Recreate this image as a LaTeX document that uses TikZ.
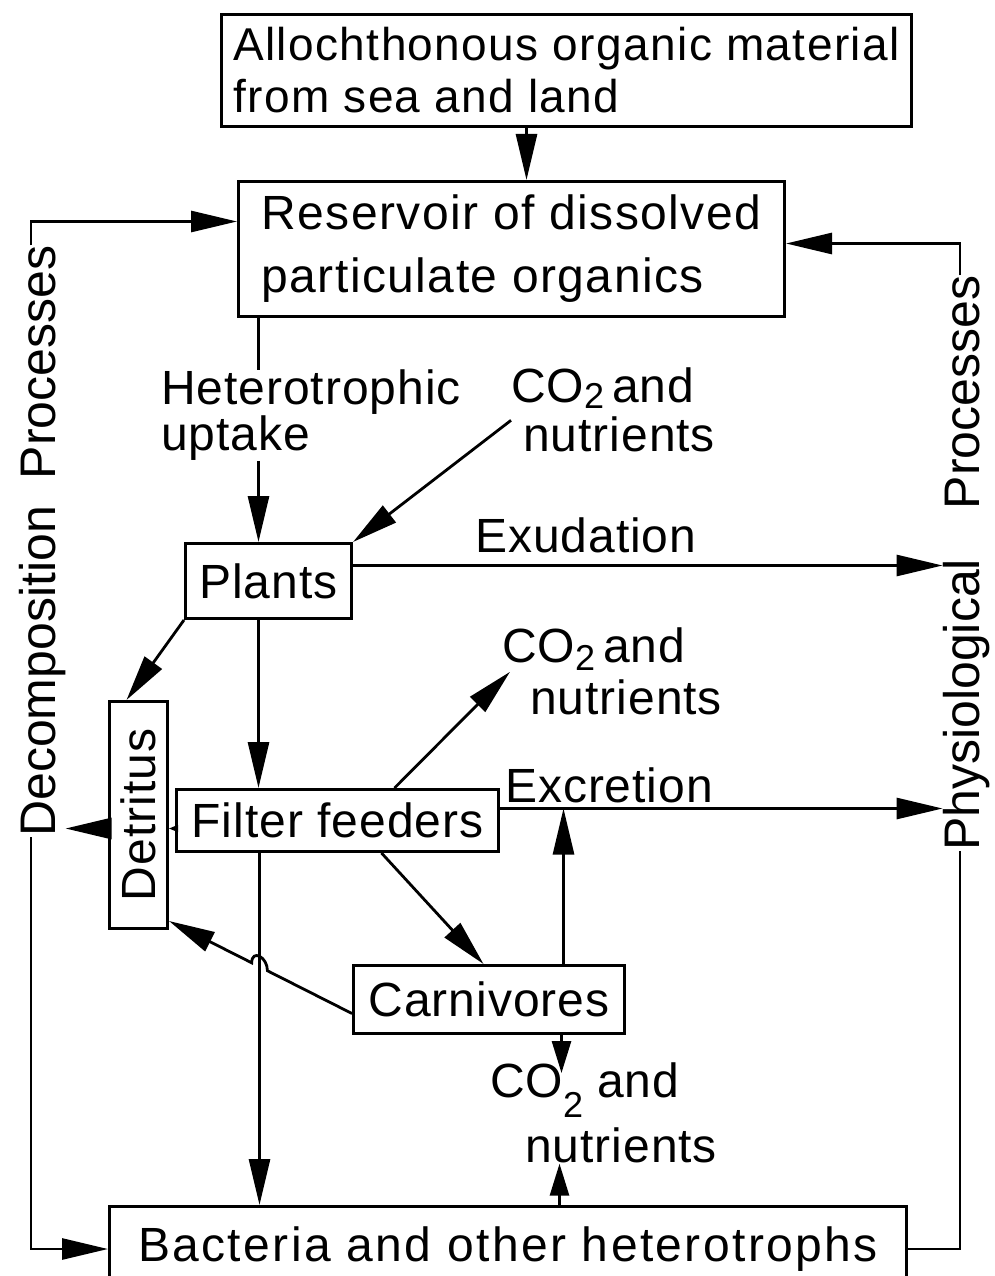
\documentclass[tikz,border=0pt]{standalone}
\usepackage{fontspec}
\setmainfont{Liberation Sans}
\usetikzlibrary{arrows.meta,calc}
\newcommand{\lowtwo}[1]{\smash{\raisebox{-#1pt}{\fontsize{36}{36}\selectfont 2}}}
\begin{document}
\begin{tikzpicture}[x=1pt,y=-1pt,
  box/.style={draw, line width=3pt, inner sep=0pt, anchor=north west, align=center},
  lbl/.style={inner sep=0pt, anchor=north west, align=left},
  rot/.style={rotate=90, inner sep=0pt, anchor=base west, font=\fontsize{50}{56}\selectfont},
  arr/.style={line width=2.8pt, -{Triangle[length=46pt,width=21pt]}},
  sarr/.style={line width=2.8pt, -{Triangle[length=32pt,width=19pt]}},
  ln/.style={line width=2.8pt},
  tx/.style={font=\fontsize{48}{#1}\selectfont\addfontfeature{LetterSpace=2}},
  tx/.default=56]
\fill[white] (0,0) rectangle (995,1276);
\useasboundingbox (0,0) rectangle (995,1276);

% boxes
\node[box, minimum width=690pt, minimum height=112pt,
  font=\fontsize{46}{52}\selectfont\addfontfeature{LetterSpace=3}, align=left]
  (top) at (220,13) {Allochthonous organic material\\from sea and land};
\node[box, minimum width=546pt, minimum height=135pt,
  font=\fontsize{48}{63}\selectfont\addfontfeature{LetterSpace=3}, align=left]
  (res) at (237,180) {Reservoir of dissolved\\particulate organics};
\node[box, tx, minimum width=166pt, minimum height=75pt] (plants) at (184,542) {Plants};
\node[box, tx, minimum width=58pt, minimum height=227pt] (detritus) at (108,700) {\rotatebox{90}{Detritus}};
\node[box, tx, minimum width=322pt, minimum height=62pt] (filter) at (175,788) {Filter feeders};
\node[box, tx, minimum width=271pt, minimum height=68pt] (carn) at (352,964) {Carnivores};
\node[box, minimum width=797pt, minimum height=85pt,
  font=\fontsize{48}{56}\selectfont\addfontfeature{LetterSpace=5}]
  (bact) at (108,1205) {Bacteria and other heterotrophs};

% side texts
\node[rot] (decomp) at (55,837) {Decomposition\hspace{27pt}Processes};
\node[rot] (physio) at (979,851) {Physiological\hspace{50pt}Processes};

% labels
\node[lbl, tx=49] (co2a) at (511,368) {CO\lowtwo{6}\,and\\\hspace*{12pt}nutrients};
\node[lbl, tx=52] (co2b) at (502,628) {CO\lowtwo{8}\,and\\\hspace*{28pt}nutrients};
\node[lbl, tx=65] (co2c) at (490,1063) {CO\lowtwo{20}\hspace{14pt}and\\\hspace*{35pt}nutrients};
\node[lbl, tx=42] (het) at (161,370) {Heterotrophic\\uptake};
\node[inner sep=0pt, anchor=base west, tx] (exud) at (475,552) {Exudation};
\node[inner sep=0pt, anchor=base west, tx] (excr) at (505,802) {Excretion};

% connectors
\draw[arr] ([xshift=-40pt]top.south) -- ([xshift=-40pt]top.south |- res.north);
\draw[arr] ([xshift=-11pt]decomp.east) |- ([yshift=27.5pt]res.west);
\draw[arr] ([xshift=-6pt]physio.east) |- ([yshift=5.5pt]res.east);
\draw[arr] ([xshift=-11pt]decomp.west) |- (bact.west);
\draw[ln] ([xshift=-6pt]physio.west) |- (bact.east);

\draw[ln] ([xshift=-10pt]plants.north |- res.south) -- ([xshift=-10pt]plants.north |- het.north);
\draw[arr] ([xshift=-10pt]plants.north |- het.south) -- ([xshift=-10pt]plants.north);
\draw[arr] ([yshift=-10pt]co2a.west) -- (plants.north east);
\draw[arr] ([yshift=15.5pt]plants.east) -- ([yshift=15.5pt]plants.east -| physio.north);
\draw[arr] (plants.south west) -- ([xshift=-12pt]detritus.north);
\draw[arr] ([xshift=-10pt]plants.south) -- ([xshift=-10pt]plants.south |- filter.north);
\coordinate (fw) at ([yshift=-8pt]filter.west);
\draw[line width=1.2pt, -{Triangle[length=9pt,width=7pt]}] (fw) -- (fw -| detritus.east);
\coordinate (dw) at ([yshift=-13.5pt]detritus.west);
\draw[arr] (dw) -- (dw -| decomp.south);
\draw[arr] ([xshift=57pt]filter.north) -- ([xshift=8pt]co2b.west);
\coordinate (exc) at ([yshift=12pt]filter.east);
\draw[arr] (exc) -- (exc -| physio.north);
\draw[arr] ([xshift=74.5pt]carn.north) -- ([xshift=74.5pt]carn.north |- exc);
\draw[arr] ([xshift=44pt]filter.south) -- ([xshift=-5.5pt]carn.north);
\draw[arr] ([xshift=-78pt]filter.south) -- ([xshift=-78pt]filter.south |- bact.north);
\coordinate (cw) at ([yshift=-14pt]carn.west);
\coordinate (dse) at ([yshift=9pt]detritus.south east);
\draw[arr] (cw) -- ($(cw)!0.462!(dse)$) .. controls +(0,-14) and +(0,-14) .. ($(cw)!0.548!(dse)$) -- (dse);
\coordinate (cs) at ([xshift=72.5pt]carn.south);
\draw[sarr] (cs) -- ([yshift=-10pt]cs |- co2c.north);
\draw[sarr] ([xshift=51.5pt]bact.north) -- ([xshift=51.5pt]bact.north |- co2c.south);
\end{tikzpicture}
\end{document}
